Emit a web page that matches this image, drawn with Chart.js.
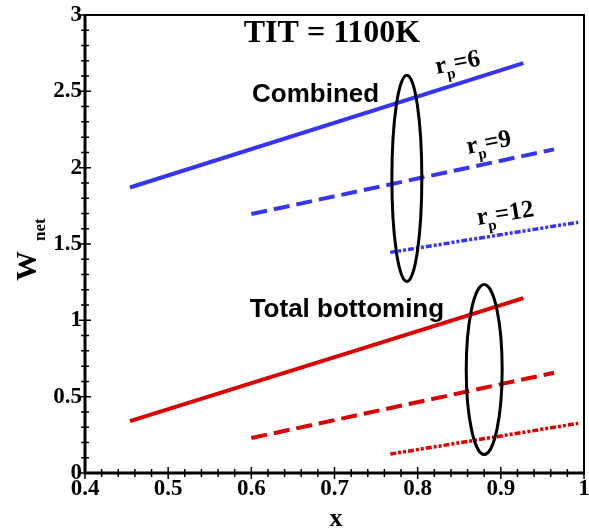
<!DOCTYPE html>
<html>
<head>
<meta charset="utf-8">
<script src="https://cdn.jsdelivr.net/npm/chart.js@4.4.0/dist/chart.umd.min.js"></script>
<style>
  html, body { margin: 0; padding: 0; background: #fff; }
  canvas { display: block; }
</style>
</head>
<body>
<canvas id="wnetChart" width="589" height="532"></canvas>
<script>
// x ranges of the three pressure-ratio curves
const xRp6 = [0.454, 0.927];
const xRp9 = [0.6, 0.964];
const xRp12 = [0.767, 0.993];

// Combined cycle net work
const combinedRp6 = [1.87, 2.685];
const combinedRp9 = [1.696, 2.12];
const combinedRp12 = [1.445, 1.642];

// Total bottoming net work
const bottomingRp6 = [0.34, 1.146];
const bottomingRp9 = [0.229, 0.657];
const bottomingRp12 = [0.124, 0.325];

// grouping ellipses: centre x, centre y, half width, half height (axis units)
const ellipseCx = [0.787, 0.880];
const ellipseCy = [1.93, 0.678];
const ellipseRx = [0.018, 0.0216];
const ellipseRy = [0.675, 0.557];

const BLUE = '#3535f8';
const RED = '#dc0000';
const SERIF = '"Liberation Serif", "Times New Roman", serif';
const SANS = '"Liberation Sans", Arial, sans-serif';

const DASHED = [16, 7];
const DOTTED = [6, 2, 3, 2, 3, 2];

function pts(xs, ys) {
    return xs.map((x, i) => ({ x: x, y: ys[i] }));
}

function series(xs, ys, color, dash, width) {
    return {
        data: pts(xs, ys),
        borderColor: color,
        borderWidth: width,
        borderDash: dash,
        borderCapStyle: 'butt',
        pointRadius: 0,
        fill: false,
        tension: 0
    };
}

// r_p label: "r" with subscript "p" then "=N"
function drawRp(ctx, x, y, angle, rest) {
    ctx.save();
    ctx.translate(x, y);
    ctx.rotate(angle * Math.PI / 180);
    ctx.fillStyle = '#000';
    ctx.textAlign = 'left';
    ctx.textBaseline = 'alphabetic';
    ctx.font = 'bold 25px ' + SERIF;
    ctx.fillText('r', 0, 0);
    const rw = ctx.measureText('r').width;
    ctx.font = 'bold 15px ' + SERIF;
    ctx.fillText('p', rw - 1, 7);
    const pw = ctx.measureText('p').width;
    ctx.font = 'bold 25px ' + SERIF;
    ctx.fillText(rest, rw + pw - 1, 0);
    ctx.restore();
}

const decorPlugin = {
    id: 'decor',
    afterDatasetsDraw(chart) {
        const ctx = chart.ctx;
        const xs = chart.scales.x;
        const ys = chart.scales.y;
        const ca = chart.chartArea;

        // ellipses
        ctx.save();
        ctx.strokeStyle = '#000';
        ctx.lineWidth = 3;
        for (let i = 0; i < ellipseCx.length; i++) {
            const cx = xs.getPixelForValue(ellipseCx[i]);
            const cy = ys.getPixelForValue(ellipseCy[i]);
            const rx = xs.getPixelForValue(ellipseCx[i] + ellipseRx[i]) - cx;
            const ry = cy - ys.getPixelForValue(ellipseCy[i] + ellipseRy[i]);
            ctx.beginPath();
            ctx.ellipse(cx, cy, rx, ry, 0, 0, Math.PI * 2);
            ctx.stroke();
        }
        ctx.restore();

        // frame
        ctx.save();
        ctx.strokeStyle = '#000';
        ctx.lineWidth = 2;
        ctx.beginPath();
        ctx.moveTo(ca.left, ca.top);
        ctx.lineTo(ca.right, ca.top);
        ctx.lineTo(ca.right, ca.bottom);
        ctx.stroke();
        ctx.lineWidth = 3;
        ctx.beginPath();
        ctx.moveTo(ca.left, ca.top - 1);
        ctx.lineTo(ca.left, ca.bottom);
        ctx.lineTo(ca.right + 1, ca.bottom);
        ctx.stroke();

        // ticks, crossing the axis lines
        ctx.lineWidth = 1.5;
        ctx.beginPath();
        for (let i = 0; i <= 30; i++) {
            const py = ys.getPixelForValue(i * 0.1);
            const len = (i % 5 === 0) ? 6 : 4;
            ctx.moveTo(ca.left - len, py);
            ctx.lineTo(ca.left + len, py);
        }
        for (let i = 0; i <= 30; i++) {
            const px = xs.getPixelForValue(0.4 + i * 0.02);
            const len = (i % 5 === 0) ? 6 : 4;
            ctx.moveTo(px, ca.bottom - len);
            ctx.lineTo(px, ca.bottom + len);
        }
        ctx.stroke();
        ctx.restore();

        // annotations
        ctx.save();
        ctx.fillStyle = '#000';
        ctx.textBaseline = 'alphabetic';
        ctx.font = 'bold 32px ' + SERIF;
        ctx.textAlign = 'center';
        ctx.fillText('TIT = 1100K', xs.getPixelForValue(0.697), ys.getPixelForValue(2.823));
        ctx.font = 'bold 26px ' + SANS;
        ctx.textAlign = 'left';
        ctx.fillText('Combined', xs.getPixelForValue(0.6008), ys.getPixelForValue(2.43));
        ctx.fillText('Total bottoming', xs.getPixelForValue(0.598), ys.getPixelForValue(1.022));
        ctx.restore();

        drawRp(ctx, xs.getPixelForValue(0.823), ys.getPixelForValue(2.613), -11, '=6');
        drawRp(ctx, xs.getPixelForValue(0.8605), ys.getPixelForValue(2.089), -11, '=9');
        drawRp(ctx, xs.getPixelForValue(0.8725), ys.getPixelForValue(1.624), -9, '=12');

        // axis titles
        ctx.save();
        ctx.fillStyle = '#000';
        ctx.font = 'bold 26px ' + SERIF;
        ctx.textAlign = 'center';
        ctx.textBaseline = 'alphabetic';
        ctx.fillText('x', 336, 526);

        ctx.translate(36, 281);
        ctx.rotate(-Math.PI / 2);
        ctx.textAlign = 'left';
        ctx.font = 'bold 30px ' + SERIF;
        ctx.fillText('W', 0, 0);
        const ww = ctx.measureText('W').width;
        ctx.font = 'bold 17px ' + SERIF;
        ctx.fillText('net', ww + 10, 9);
        ctx.restore();
    }
};

const tickFont = { family: SERIF, size: 23, weight: 'bold' };
const tickText = v => String(Number(v.toFixed(2)));

new Chart(document.getElementById('wnetChart'), {
    type: 'line',
    data: {
        datasets: [
            series(xRp6, combinedRp6, BLUE, [], 4),
            series(xRp9, combinedRp9, BLUE, DASHED, 4),
            series(xRp12, combinedRp12, BLUE, DOTTED, 3.5),
            series(xRp6, bottomingRp6, RED, [], 4),
            series(xRp9, bottomingRp9, RED, DASHED, 4),
            series(xRp12, bottomingRp12, RED, DOTTED, 3.5)
        ]
    },
    options: {
        responsive: false,
        devicePixelRatio: 1,
        animation: false,
        layout: { padding: { top: 15, right: 5, left: 0, bottom: 0 } },
        plugins: {
            legend: { display: false },
            tooltip: { enabled: false }
        },
        scales: {
            x: {
                type: 'linear',
                min: 0.4,
                max: 1,
                grid: { display: false, drawTicks: false },
                border: { display: false },
                ticks: { stepSize: 0.1, color: '#000', font: tickFont, padding: 2, maxRotation: 0, callback: tickText },
                afterFit(scale) {
                    scale.height = 59;
                    scale.paddingLeft = 0;
                    scale.paddingRight = 0;
                }
            },
            y: {
                type: 'linear',
                min: 0,
                max: 3,
                grid: { display: false, drawTicks: false },
                border: { display: false },
                ticks: { stepSize: 0.5, color: '#000', font: tickFont, padding: 3, callback: tickText },
                afterFit(scale) {
                    scale.width = 85;
                    scale.paddingTop = 0;
                    scale.paddingBottom = 0;
                }
            }
        }
    },
    plugins: [decorPlugin]
});
</script>
</body>
</html>
